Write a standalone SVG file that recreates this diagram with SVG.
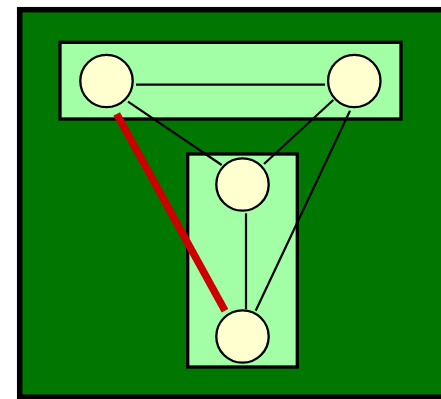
<svg xmlns="http://www.w3.org/2000/svg" width="441" height="399" viewBox="0 0 441 399">
<style>
.cl{fill:#a3ffa6;stroke:#000;stroke-width:3.3}
.nd{fill:#ffffd0;stroke:#000;stroke-width:2.3}
.e{stroke:#000;stroke-width:2.2;fill:none}
</style>
<rect width="441" height="399" fill="#fff"/>
<g id="outer"><rect x="19.7" y="9.7" width="430" height="387.5" fill="#007700" stroke="#000" stroke-width="5.5"/></g>
<g id="cluster_top"><rect class="cl" x="60" y="42.3" width="341" height="76.7"/></g>
<g id="cluster_bottom"><rect class="cl" x="187.7" y="154" width="109.6" height="213"/></g>
<g id="edges">
<line class="e" x1="136" y1="84.7" x2="325" y2="84.7"/>
<line class="e" x1="128" y1="101.7" x2="221.7" y2="165"/>
<line class="e" x1="333.3" y1="100" x2="264" y2="164"/>
<line class="e" x1="350" y1="110.7" x2="255.7" y2="310.7"/>
<line class="e" x1="246" y1="213.3" x2="246" y2="309.3"/>
<line x1="116.7" y1="114" x2="225" y2="310.7" stroke="#cc0000" stroke-width="7.5"/>
</g>
<g id="n1"><circle class="nd" cx="106.5" cy="81" r="26.2"/></g>
<g id="n2"><circle class="nd" cx="354.3" cy="81" r="26.2"/></g>
<g id="n3"><circle class="nd" cx="242.5" cy="184.5" r="26.2"/></g>
<g id="n4"><circle class="nd" cx="242.5" cy="336.5" r="26.2"/></g>
</svg>
